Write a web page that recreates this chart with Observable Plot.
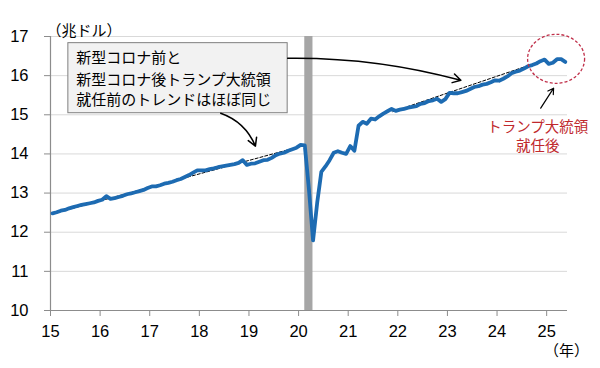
<!DOCTYPE html>
<html><head><meta charset="utf-8">
<script src="https://cdn.jsdelivr.net/npm/d3@7"></script>
<script src="https://cdn.jsdelivr.net/npm/@observablehq/plot@0.6"></script>
<style>
body{margin:0;background:#fff;}
#chart{width:600px;height:368px;}
</style>
</head><body><div id="chart"></div>
<script>
// Monthly values (兆ドル), Jan..Dec
const years = [2015,2016,2017,2018,2019,2020,2021,2022,2023,2024,2025];
const v2015 = [12.48,12.51,12.55,12.57,12.61,12.64,12.67,12.70,12.72,12.74,12.76,12.80];
const v2016 = [12.83,12.92,12.85,12.87,12.90,12.93,12.97,12.99,13.02,13.05,13.08,13.13];
const v2017 = [13.17,13.17,13.20,13.24,13.26,13.29,13.33,13.36,13.41,13.46,13.52,13.58];
const v2018 = [13.58,13.58,13.61,13.63,13.66,13.68,13.70,13.72,13.74,13.77,13.84,13.72];
const v2019 = [13.75,13.76,13.80,13.84,13.85,13.90,13.97,14.01,14.03,14.08,14.12,14.16];
const v2020 = [14.23,14.22,13.10,11.79,12.75,13.54,13.68,13.84,14.03,14.07,14.03,14.00];
const v2021 = [14.20,14.08,14.72,14.82,14.77,14.90,14.88,14.96,15.03,15.09,15.15,15.10];
const v2022 = [15.13,15.15,15.18,15.20,15.22,15.28,15.30,15.35,15.37,15.41,15.33,15.40];
const v2023 = [15.56,15.55,15.55,15.58,15.61,15.66,15.71,15.73,15.77,15.79,15.83,15.88];
const v2024 = [15.87,15.92,15.98,16.06,16.10,16.13,16.18,16.24,16.27,16.31,16.37,16.41];
const v2025 = [16.30,16.33,16.42,16.42,16.35];
const seriesByYear = [v2015,v2016,v2017,v2018,v2019,v2020,v2021,v2022,v2023,v2024,v2025];

// trend lines (start/end)
const trendPre = [{t: 2015.04, v: 12.47}, {t: 2020.12, v: 14.22}];
const trendPost = [{t: 2021.9, v: 15.08}, {t: 2024.96, v: 16.40}];

// recession band (Feb–Apr 2020)
const band = [{t1: 2020.125, t2: 2020.29}];

const xTicks = [2015,2016,2017,2018,2019,2020,2021,2022,2023,2024,2025];
const xTickLabels = ["15","16","17","18","19","20","21","22","23","24","25"];
const yTicks = [10,11,12,13,14,15,16,17];

const noteLines = ["新型コロナ前と", "新型コロナ後トランプ大統領", "就任前のトレンドはほぼ同じ"];
const redLines = ["トランプ大統領", "就任後"];

// build table
const data = [];
seriesByYear.forEach((arr, i) => arr.forEach((v, m) => data.push({t: years[i] + (m + 0.5) / 12, v})));

// annotation geometry (data units)
const box = [{x1: 2015.36, x2: 2019.78, y1: 15.04, y2: 16.83}];
const noteText = noteLines.map((s, i) => ({s, t: 2015.52, v: [16.44, 15.88, 15.37][i]}));
const redText = redLines.map((s, i) => ({s, t: 2024.82, v: [14.68, 14.19][i]}));
const arrow1 = [{x1: 2019.78, y1: 16.445, x2: 2023.27, y2: 15.88}];
const arrow2 = [{x1: 2018.43, y1: 15.04, x2: 2019.13, y2: 14.2}];
const arrow3 = [{x1: 2024.88, y1: 15.17, x2: 2025.14, y2: 15.68}];
const circle = [{t: 2025.19, v: 16.43}];

const jp = "'Noto Sans CJK JP', sans-serif";
const arrowOpts = {x1: "x1", y1: "y1", x2: "x2", y2: "y2", stroke: "#000", strokeWidth: 1.5, headLength: 9};
const plot = Plot.plot({
  width: 600, height: 368,
  marginLeft: 50, marginRight: 33, marginTop: 36, marginBottom: 58,
  style: {fontFamily: "'Liberation Sans', Arial, sans-serif", fontSize: "16px", color: "#000", background: "#fff", overflow: "visible"},
  x: {domain: [2015, 2025.42], label: null},
  y: {domain: [10, 17], label: null},
  marks: [
    Plot.gridY(yTicks.filter(d => d > 10), {stroke: "#d9d9d9", strokeOpacity: 1}),
    Plot.rect(band, {x1: "t1", x2: "t2", y1: 10, y2: 17, fill: "#a6a6a6"}),
    Plot.ruleX([2015], {stroke: "#8c8c8c", strokeWidth: 1.2}),
    Plot.ruleY([10], {stroke: "#8c8c8c", strokeWidth: 1.2}),
    Plot.axisX({ticks: xTicks, tickFormat: (d) => xTickLabels[xTicks.indexOf(d)], tickSize: 6, tickPadding: 9, stroke: "#8c8c8c", fill: "#000", fontSize: 16.5}),
    Plot.axisY({ticks: yTicks, tickFormat: (d) => String(d), tickSize: 6, tickPadding: 16, stroke: "#8c8c8c", fill: "#000", fontSize: 16.5}),
    Plot.line(trendPre, {x: "t", y: "v", stroke: "#000", strokeWidth: 1, strokeDasharray: "3,2"}),
    Plot.line(trendPost, {x: "t", y: "v", stroke: "#000", strokeWidth: 1, strokeDasharray: "3,2"}),
    Plot.line(data, {x: "t", y: "v", stroke: "#1d6bb2", strokeWidth: 3.8, strokeLinejoin: "round"}),
    Plot.rect(box, {x1: "x1", x2: "x2", y1: "y1", y2: "y2", fill: "#f2f2f2", stroke: "#7f7f7f", strokeWidth: 1}),
    Plot.text(noteText, {x: "t", y: "v", text: "s", textAnchor: "start", fontFamily: jp, fontSize: 15, fill: "#000"}),
    Plot.arrow(arrow1, {...arrowOpts, bend: 8}),
    Plot.arrow(arrow2, {...arrowOpts, bend: 24}),
    Plot.arrow(arrow3, {...arrowOpts, strokeWidth: 1.2, headLength: 8}),
    Plot.dot(circle, {x: "t", y: "v", r: 26, stroke: "#c0304a", strokeWidth: 1.3, strokeDasharray: "3,2", fill: "none"}),
    Plot.text(redText, {x: "t", y: "v", text: "s", fontFamily: jp, fontSize: 14.5, fill: "#c0282d"}),
    Plot.text(["（兆ドル）"], {frameAnchor: "top-left", dx: -4, dy: -11, textAnchor: "start", fontFamily: jp, fontSize: 15, fill: "#000"}),
    Plot.text(["（年）"], {frameAnchor: "bottom-right", dx: -1, dy: 45, textAnchor: "middle", fontFamily: jp, fontSize: 15, fill: "#000"})
  ]
});
document.getElementById("chart").appendChild(plot);
// make the dashed circle an ellipse like the reference
d3.select(plot).selectAll("circle").each(function() {
  const c = d3.select(this);
  const p = this.parentNode;
  const e = document.createElementNS("http://www.w3.org/2000/svg", "ellipse");
  e.setAttribute("cx", c.attr("cx") || 0);
  e.setAttribute("cy", c.attr("cy") || 0);
  e.setAttribute("rx", 28.5);
  e.setAttribute("ry", 24.5);
  if (c.attr("transform")) e.setAttribute("transform", c.attr("transform"));
  p.insertBefore(e, this);
  p.removeChild(this);
});
</script>
</body></html>
